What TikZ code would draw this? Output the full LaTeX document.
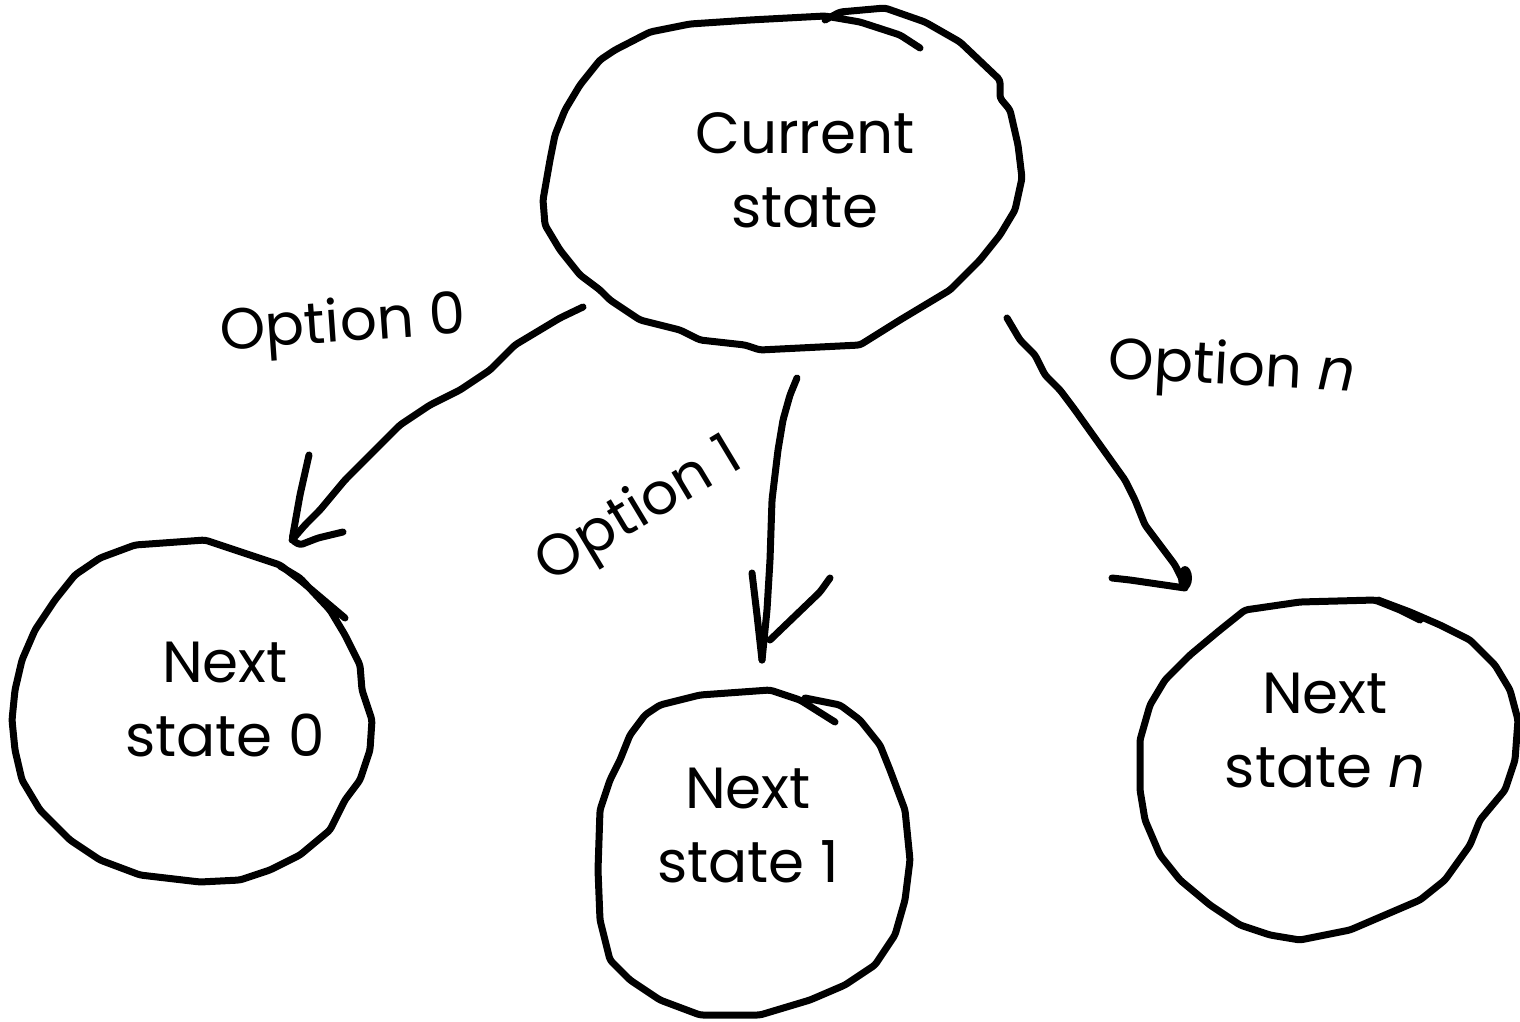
\documentclass[tikz,border=0pt]{standalone}
\usepackage{fontspec}
\setmainfont{Poppins}
\begin{document}
\begin{tikzpicture}[x=1pt,y=-1pt,
  sketch/.style={line width=7pt,line join=round,line cap=round,rounded corners=3pt},
  lbl/.style={font=\fontsize{58}{74}\selectfont,inner sep=0pt,align=center}]
\useasboundingbox (0,0) rectangle (1520,1022);

% current state blob
\draw[sketch] (920,48) -- (900,35) -- (860,22) -- (825,16) -- (750,20) -- (690,24) -- (650,32)
  -- (615,50) -- (600,60) -- (580,85) -- (565,110) -- (555,135) -- (550,160) -- (543,200)
  -- (545,225) -- (560,250) -- (580,275) -- (600,290) -- (610,300) -- (640,320) -- (680,330)
  -- (700,340) -- (745,345) -- (760,350) -- (860,345) -- (900,320) -- (950,290) -- (980,260)
  -- (1000,235) -- (1015,210) -- (1022,178) -- (1018,145) -- (1010,110) -- (1000,98)
  -- (1000,80) -- (960,42) -- (925,22) -- (885,8) -- (840,12) -- (825,20);

% next state 0 blob
\draw[sketch] (345,618) -- (300,580) -- (280,565) -- (205,540) -- (135,545) -- (100,558)
  -- (75,575) -- (55,600) -- (35,630) -- (22,660) -- (15,690) -- (12,720) -- (15,750)
  -- (22,780) -- (40,810) -- (70,840) -- (100,860) -- (140,875) -- (200,882) -- (240,880)
  -- (270,870) -- (300,855) -- (330,830) -- (345,800) -- (360,780) -- (370,750) -- (372,720)
  -- (362,690) -- (360,665) -- (345,635) -- (330,610) -- (300,578) -- (280,566);

% next state 1 blob
\draw[sketch] (835,722) -- (800,700) -- (770,690) -- (700,695) -- (660,705) -- (645,715)
  -- (630,735) -- (620,760) -- (610,780) -- (600,810) -- (598,870) -- (600,920) -- (610,960)
  -- (630,980) -- (660,1000) -- (700,1015) -- (760,1015) -- (810,1000) -- (845,985)
  -- (875,965) -- (895,935) -- (905,900) -- (910,860) -- (905,810) -- (890,770) -- (880,745)
  -- (860,720) -- (840,705) -- (805,698);

% next state n blob
\draw[sketch] (1420,620) -- (1400,610) -- (1375,600) -- (1300,602) -- (1245,610) -- (1220,630)
  -- (1190,655) -- (1165,680) -- (1150,705) -- (1140,740) -- (1140,790) -- (1145,820)
  -- (1160,855) -- (1180,880) -- (1210,905) -- (1240,925) -- (1270,935) -- (1300,940)
  -- (1350,930) -- (1385,915) -- (1420,900) -- (1445,880) -- (1470,845) -- (1480,820)
  -- (1505,790) -- (1515,760) -- (1518,720) -- (1510,690) -- (1495,665) -- (1470,640)
  -- (1440,625) -- (1410,612) -- (1378,600);

% connector: option 0
\coordinate (a0s) at (583,307);
\coordinate (a0e) at (292,540);
\draw[sketch] (a0s) -- (560,318) -- (540,330) -- (515,345) -- (490,370) -- (460,390)
  -- (430,405) -- (400,425) -- (370,455) -- (345,480) -- (320,510) -- (305,525) -- (a0e);
\draw[sketch] (309,455) -- (300,495) -- (a0e) -- (300,545) -- (318,538) -- (343,532);

% connector: option 1
\coordinate (a1s) at (797,378);
\coordinate (a1e) at (762,660);
\draw[sketch] (a1s) -- (790,395) -- (783,420) -- (778,450) -- (772,500) -- (770,560)
  -- (767,610) -- (a1e);
\draw[sketch] (752,573) -- (757,615) -- (a1e);
\draw[sketch] (770,640) -- (820,592) -- (830,578);

% connector: option n
\coordinate (ans) at (1007,318);
\coordinate (ane) at (1185,585);
\draw[sketch] (ans) -- (1020,340) -- (1035,355) -- (1045,375) -- (1060,390) -- (1075,410)
  -- (1100,445) -- (1125,480) -- (1135,500) -- (1145,525) -- (1160,545) -- (1175,565) -- (ane);
\fill (1185,578) ellipse [x radius=7pt, y radius=12pt];
\draw[sketch] (1112,578) -- (1130,580) -- (1185,588);

% labels
\node[lbl] (cur) at (805,170) {Current\\state};
\node[lbl] (n0) at (225,700) {Next\\state 0};
\node[lbl] (n1) at (748,826) {Next\\state 1};
\node[lbl] (nn) at (1325,731) {Next\\state \textit{n}};
\node[lbl,rotate=4] (o0) at (343,327) {Option 0};
\node[lbl,rotate=31] (o1) at (640,512) {Option 1};
\node[lbl,rotate=-3] (on) at (1232,370) {Option \textit{n}};
\end{tikzpicture}
\end{document}
